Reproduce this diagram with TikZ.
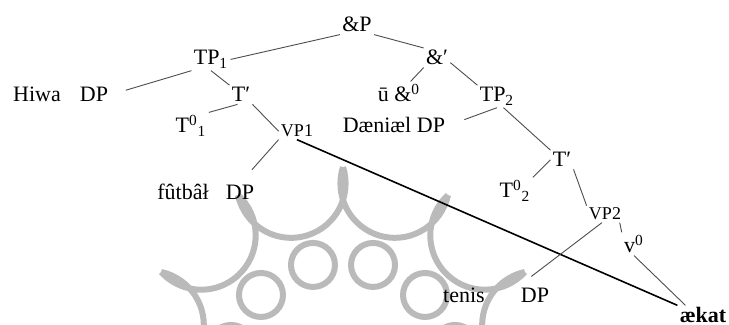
\documentclass[tikz,border=0pt]{standalone}
\usepackage{fontspec}
\setmainfont{Liberation Serif}
\newcommand{\vpsize}{\fontsize{9}{11}\selectfont}
\newcommand{\lbsize}{\fontsize{11}{13}\selectfont}

\begin{document}
\begin{tikzpicture}[x=0.5pt, y=-0.5pt, lt/.style={inner sep=1pt,
				anchor=base, font=\lbsize}, br/.style={draw=black!70, line
				width=0.45pt}, hd/.style={draw=black, line width=0.8pt},
				wm/.style={draw=black!27, line width=3pt}]
			\useasboundingbox (0,0) rectangle (729,325);

			\begin{scope}
				\clip (0,0) rectangle (729,325);
				\foreach \b in {15,45,...,345} {
					\draw[wm] (343,377) ++(\b:200.45) ++(\b+87.5:54.45)
					arc[start angle=\b+87.5, end angle=\b+272.5, radius=54.45];
					\draw[wm] (343,377) ++(\b:116) circle[radius=22];
				}
			\end{scope}

			\node[lt] (ap) at (357,32) {\&P};
			\node[lt] (tp1) at (211,65) {TP\textsubscript{1}};
			\node[lt] (ab) at (437,65) {\&′};
			\node[lt] (hw) at (37,102) {Hiwa}; \node[lt] (d1) at (94,102) {DP};
			\node[lt] (tb1) at (241,102) {T′};
			\node[lt] (t1) at (191,133) {T\textsuperscript{0}\textsubscript{1}};
			\node[lt, font=\vpsize] (vp1) at (297,137) {VP1};
			\node[lt] (ua) at (399,102) {ū \&\textsuperscript{0}};
			\node[lt] (tp2) at (497,102) {TP\textsubscript{2}};
			\node[lt] (dn) at (377,133) {Dæniæl}; \node[lt] (d3) at (431,133) {DP};
			\node[lt] (tb2) at (562,167) {T′};
			\node[lt] (t2) at (515,198) {T\textsuperscript{0}\textsubscript{2}};
			\node[lt, font=\vpsize] (vp2) at (605,220) {VP2};
			\node[lt] (v0) at (634,253) {v\textsuperscript{0}};
			\node[lt] (ft) at (183,200) {fûtbâł}; \node[lt] (d2) at (240,200) {DP};
			\node[lt] (tn) at (464,303) {tenis}; \node[lt] (d4) at (535,303) {DP};
			\node[lt, font=\lbsize\bfseries] (ak) at (703,323) {ækat};

			\draw[br] (ap.south west) -- (tp1.east);
			\draw[br] (ap.south east) -- (ab.north west);
			\draw[br, shorten >=8pt] (tp1.south west) -- (d1.east);
			\draw[br] (tp1.south) -- (tb1.north west);
			\draw[br] (tb1.250) -- (t1.north east);
			\draw[br] (tb1.south east) -- (vp1.west);
			\draw[br, shorten >=9pt] (vp1.south west) -- (d2.north);
			\draw[hd] (vp1.south) -- (ak.north west);
			\draw[br] (ab.south west) -- (ua.45);
			\draw[br] (ab.-20) -- (tp2.north west);
			\draw[br, shorten >=9pt] (tp2.south) -- (d3.east);
			\draw[br] (tp2.-60) -- (tb2.north west);
			\draw[br] (tb2.west) -- (t2.north east);
			\draw[br] (tb2.south east) -- (vp2.north west);
			\draw[br, shorten >=8pt] (vp2.-110) -- (d4.north west);
			\draw[br] (vp2.-30) -- (v0.north west);
			\draw[br] (v0.south) -- (ak.150);
		\end{tikzpicture}
\end{document}
